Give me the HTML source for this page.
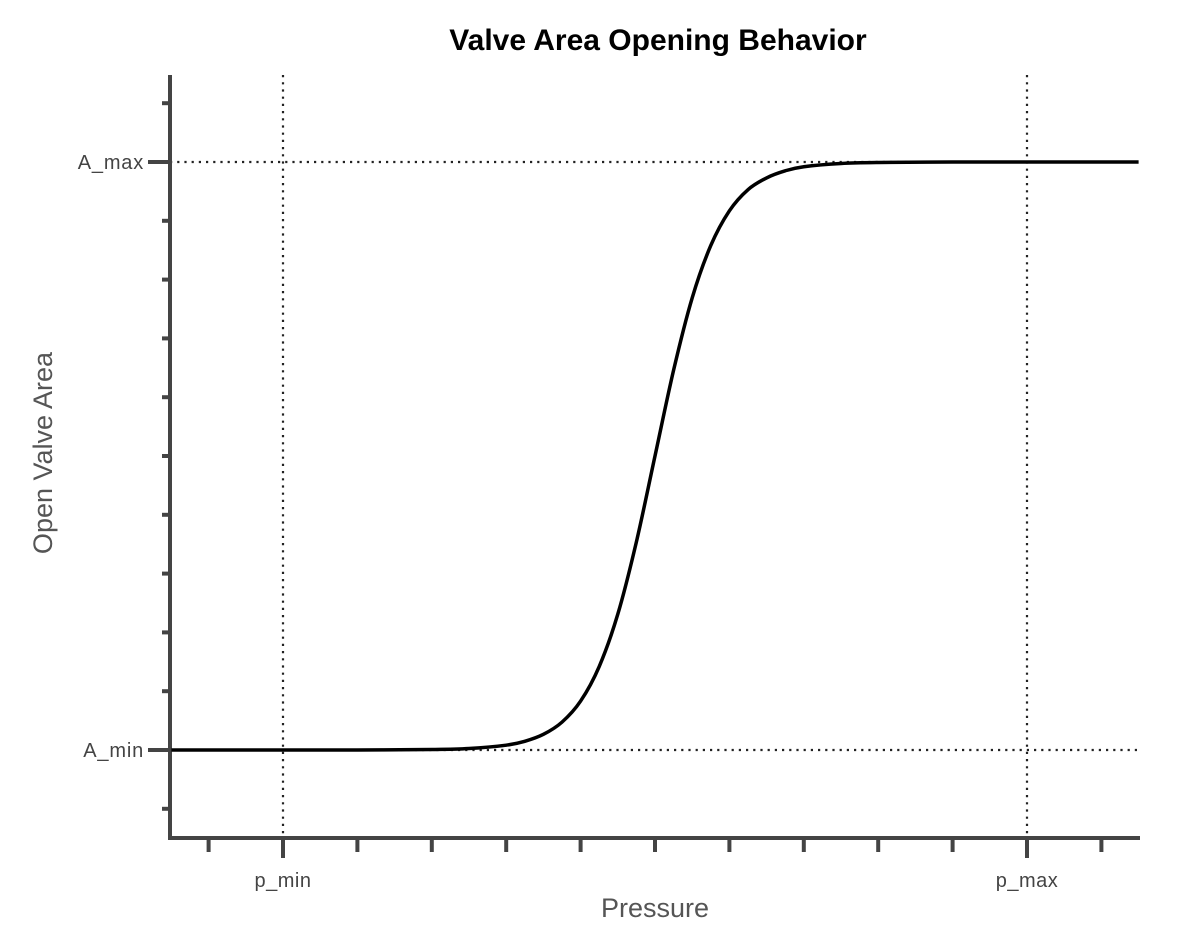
<!DOCTYPE html>
<html><head><meta charset="utf-8"><style>
body{margin:0;background:#fff;}
svg{display:block;font-family:"Liberation Sans",sans-serif;}
</style></head><body>
<svg id="chart" width="1203" height="951">
<text x="658" y="50" text-anchor="middle" font-size="30" font-weight="bold" fill="#000">Valve Area Opening Behavior</text>
<g id="grid"></g><g id="axes"></g><g id="plot"></g>
<text x="655" y="917" text-anchor="middle" font-size="27" fill="#555">Pressure</text>
<text transform="translate(52,453) rotate(-90)" text-anchor="middle" font-size="27" fill="#555">Open Valve Area</text>
</svg>
<script>
const pressures=[-1.5,0,1,2,2.5,3,3.25,3.5,3.75,4,4.25,4.5,4.75,5,5.25,5.5,5.75,6,6.25,6.5,6.75,7,7.5,8,9,10,11.5];
const areas=[0,0,0.0001,0.0008,0.0025,0.0082,0.0148,0.0266,0.0474,0.0832,0.142,0.231,0.354,0.5,0.646,0.769,0.858,0.917,0.953,0.973,0.985,0.992,0.9975,0.9992,0.9999,1,1];
const xTickVals=[-1,0,1,2,3,4,5,6,7,8,9,10,11];
const xLabels=[{v:0,t:"p_min"},{v:10,t:"p_max"}];
const yTickVals=[-0.1,0,0.1,0.2,0.3,0.4,0.5,0.6,0.7,0.8,0.9,1,1.1];
const yLabels=[{v:0,t:"A_min"},{v:1,t:"A_max"}];
const NS="http://www.w3.org/2000/svg";
const X=p=>283+(p-0)*74.4, Y=a=>750-a*588;
const x0=170,x1=1140,yTop=75,yBot=838;
function mk(tag,attrs,parent){const e=document.createElementNS(NS,tag);for(const k in attrs)e.setAttribute(k,attrs[k]);parent.appendChild(e);return e;}
const grid=document.getElementById('grid'),axes=document.getElementById('axes'),plot=document.getElementById('plot');
xLabels.forEach(l=>{const e=mk('line',{x1:X(l.v),x2:X(l.v),y1:yTop,y2:yBot,stroke:'#222','stroke-width':2.2,'stroke-dasharray':'2.2 5'},grid);

});
yLabels.forEach(l=>{const e=mk('line',{x1:x0,x2:x1,y1:Y(l.v),y2:Y(l.v),stroke:'#222','stroke-width':2.2,'stroke-dasharray':'2.2 5'},grid);

});
let a=mk('line',{x1:x0,x2:x0,y1:yTop,y2:yBot+2,stroke:'#444','stroke-width':4},axes);


a=mk('line',{x1:x0-2,x2:x1,y1:yBot,y2:yBot,stroke:'#444','stroke-width':4},axes);


xTickVals.forEach(v=>{const labeled=xLabels.some(l=>l.v===v);const t=mk('line',{x1:X(v),x2:X(v),y1:yBot,y2:yBot+(labeled?20:14),stroke:'#444','stroke-width':4},axes);

});
yTickVals.forEach(v=>{const labeled=yLabels.some(l=>l.v===v);const t=mk('line',{x1:x0-(labeled?22:8),x2:x0,y1:Y(v),y2:Y(v),stroke:'#444','stroke-width':4},axes);

});
xLabels.forEach(l=>{const t=mk('text',{x:X(l.v),y:887,'text-anchor':'middle','font-size':20,'letter-spacing':0.5,fill:'#444'},axes);t.textContent=l.t;

});
yLabels.forEach(l=>{const t=mk('text',{x:144,y:Y(l.v)+7,'text-anchor':'end','font-size':20,'letter-spacing':0.8,fill:'#444'},axes);t.textContent=l.t;

});
const pts=pressures.map((p,i)=>[X(p),Y(areas[i])]);
let d='M'+pts[0][0]+','+pts[0][1];
for(let i=0;i<pts.length-1;i++){const p0=pts[Math.max(0,i-1)],p1=pts[i],p2=pts[i+1],p3=pts[Math.min(pts.length-1,i+2)];
const c1=[p1[0]+(p2[0]-p0[0])/6,p1[1]+(p2[1]-p0[1])/6],c2=[p2[0]-(p3[0]-p1[0])/6,p2[1]-(p3[1]-p1[1])/6];
d+=` C${c1[0]},${c1[1]} ${c2[0]},${c2[1]} ${p2[0]},${p2[1]}`;}
const c=mk('path',{d:d,fill:'none',stroke:'#000','stroke-width':3.5},plot);


</script>
</body></html>
